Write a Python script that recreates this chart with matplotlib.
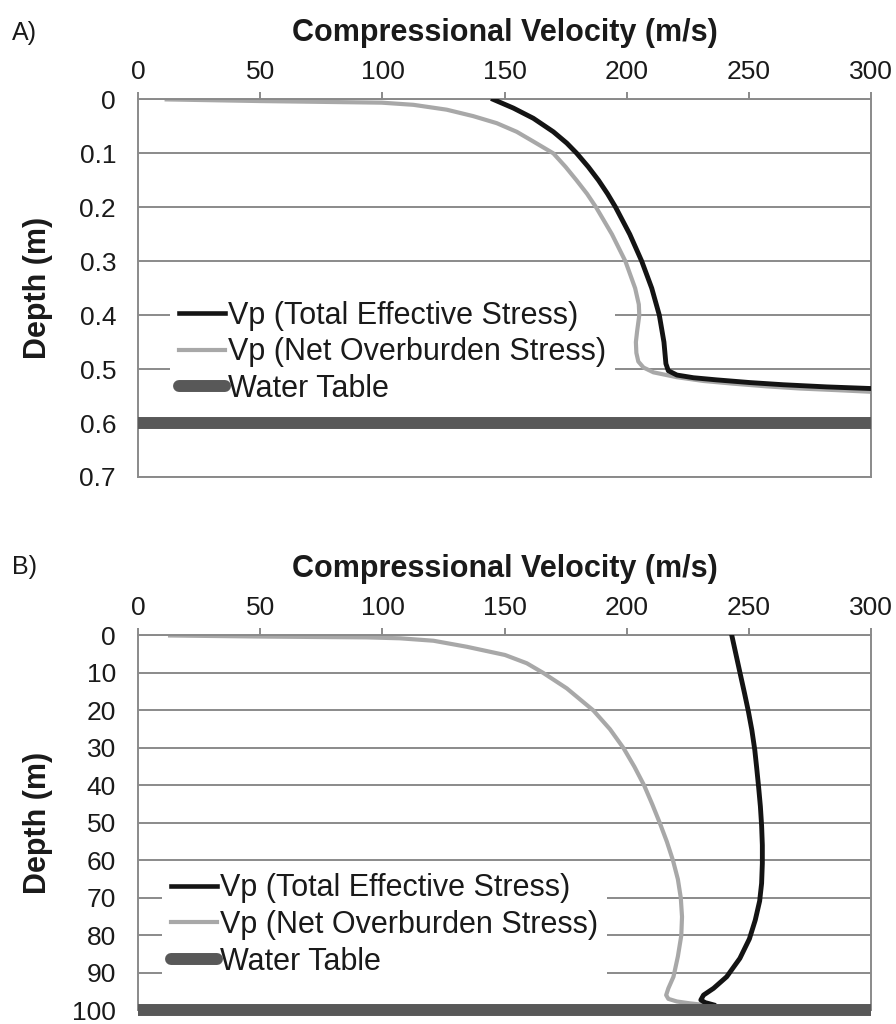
import matplotlib
matplotlib.use("Agg")
import matplotlib.pyplot as plt

# ---- data ----
x_ticks = [0, 50, 100, 150, 200, 250, 300]
y_ticks_a = [0, 0.1, 0.2, 0.3, 0.4, 0.5, 0.6, 0.7]
y_ticks_b = [0, 10, 20, 30, 40, 50, 60, 70, 80, 90, 100]

# A) shallow profile (depth in m, Vp in m/s)
depth_a_total = [0, 0.016, 0.035, 0.060, 0.081, 0.100, 0.125, 0.150, 0.175, 0.200,
                 0.250, 0.300, 0.350, 0.400, 0.450, 0.490, 0.503, 0.511, 0.516, 0.520,
                 0.525, 0.529, 0.533, 0.536]
vp_a_total = [145.4, 153.6, 161.8, 170.0, 175.5, 179.6, 184.3, 188.5, 192.2, 195.5,
              201.3, 206.2, 210.3, 213.4, 215.3, 216.1, 217.1, 220.6, 227.4, 237.0,
              250.6, 264.2, 282.0, 300]

depth_a_net = [0, 0.003, 0.006, 0.010, 0.019, 0.031, 0.044, 0.060, 0.078, 0.100,
               0.125, 0.150, 0.175, 0.200, 0.250, 0.300, 0.350, 0.380, 0.400, 0.430,
               0.450, 0.470, 0.486, 0.497, 0.506, 0.515, 0.522, 0.527, 0.532, 0.536,
               0.539, 0.542]
vp_a_net = [11.6, 49.8, 99.7, 112.7, 126.3, 137.2, 146.8, 155.0, 161.8, 170.0,
            175.0, 179.5, 183.8, 187.5, 194.0, 199.5, 203.5, 205.0, 205.2, 204.3,
            203.8, 204.0, 204.8, 206.9, 211.0, 220.6, 231.5, 243.7, 257.4, 271.1,
            286.1, 300]

# B) deep profile
depth_b_total = [0, 10.1, 15.4, 20.3, 25.2, 30.5, 35.4, 40.6, 45.6, 50.7, 55.9, 60.8,
                 66.1, 70.8, 75.9, 80.9, 86.1, 91.0, 94.1, 95.9, 97.2, 97.9, 98.5]
vp_b_total = [243.1, 246.5, 248.3, 249.9, 251.3, 252.5, 253.3, 254.1, 254.8, 255.3,
              255.6, 255.6, 255.3, 254.5, 252.7, 250.3, 246.4, 241.0, 235.6, 231.5,
              230.4, 232.2, 235.6]

depth_b_net = [0, 0.3, 0.5, 0.75, 1.4, 3.0, 5.2, 7.4, 10.0, 14.1, 20.0, 25.0,
               30.0, 35.0, 40.0, 45.0, 50.0, 55.0, 60.0, 65.0, 70.0, 75.0, 80.0, 85.6,
               91.0, 94.1, 95.9, 96.9, 97.6, 98.1, 98.5]
vp_b_net = [13.0, 52.6, 93.6, 107.2, 120.9, 134.5, 150.2, 159.1, 165.9, 175.5,
            186.4, 193.2, 198.7, 203.2, 207.2, 210.5, 213.6, 216.5, 219.0, 221.0,
            222.2, 222.7, 222.4, 221.0, 219.2, 217.1, 216.2, 217.1, 220.6, 226.0, 231.5]

water_table_a = 0.6
water_table_b = 100

labels = ["Vp (Total Effective Stress)", "Vp (Net Overburden Stress)", "Water Table"]

# ---- style ----
plt.rcParams['font.family'] = ['Liberation Sans', 'DejaVu Sans']
grid_color = '#8a8a8a'
text_color = '#1a1a1a'
total_color = '#141414'
net_color = '#a8a8a8'
water_color = '#585858'

fig = plt.figure(figsize=(8.96, 10.24), dpi=100)
ax_a = fig.add_axes([0.1544, 0.5342, 0.8174, 0.3687])
ax_b = fig.add_axes([0.1544, 0.0132, 0.8174, 0.3662])


def style_axis(ax, y_ticks, y_max):
    ax.set_xlim(0, 300)
    ax.set_ylim(y_max, 0)
    ax.set_xticks(x_ticks)
    ax.set_yticks(y_ticks)
    ax.set_yticklabels([('%g' % t) for t in y_ticks])
    ax.xaxis.tick_top()
    ax.xaxis.set_label_position('top')
    ax.tick_params(axis='x', direction='out', length=5, width=1.4, color=grid_color,
                   labelsize=19, labelcolor=text_color, pad=6)
    ax.tick_params(axis='y', length=0, labelsize=19, labelcolor=text_color, pad=16)
    ax.yaxis.grid(True, color=grid_color, linewidth=1.4)
    ax.set_axisbelow(True)
    for s in ax.spines.values():
        s.set_color(grid_color)
        s.set_linewidth(1.4)
    ax.set_xlabel("Compressional Velocity (m/s)", fontsize=22, fontweight='bold',
                  color=text_color, labelpad=14)
    ax.set_ylabel("Depth (m)", fontsize=22, fontweight='bold', color=text_color)
    ax.yaxis.set_label_coords(-0.1165, 0.5)


def draw_panel(ax, d_total, v_total, d_net, v_net, wt, legend_anchor):
    l1, = ax.plot(v_total, d_total, color=total_color, linewidth=3.5, zorder=3,
                  solid_joinstyle='round')
    l2, = ax.plot(v_net, d_net, color=net_color, linewidth=3.0, zorder=2,
                  solid_joinstyle='round')
    l3 = ax.axhline(wt, color=water_color, linewidth=8.6, solid_capstyle='butt',
                    zorder=4, clip_on=False)
    leg = ax.legend([l1, l2, l3], labels, loc='center left', bbox_to_anchor=legend_anchor,
                    fontsize=22, frameon=True, framealpha=1, facecolor='white',
                    edgecolor='none', borderaxespad=0, borderpad=0.3, handlelength=1.5,
                    handletextpad=0.1, labelspacing=0.22, fancybox=False)
    leg.legend_handles[2].set_solid_capstyle('round')
    leg.legend_handles[0].set_linewidth(3.3)
    leg.legend_handles[1].set_linewidth(3.0)
    for t in leg.get_texts():
        t.set_color(text_color)


style_axis(ax_a, y_ticks_a, 0.7)
style_axis(ax_b, y_ticks_b, 100)
draw_panel(ax_a, depth_a_total, vp_a_total, depth_a_net, vp_a_net, water_table_a, (0.043, 0.33))
draw_panel(ax_b, depth_b_total, vp_b_total, depth_b_net, vp_b_net, water_table_b, (0.032, 0.228))

fig.text(0.013, 1 - 33 / 1024, "A)", fontsize=18, color=text_color, va='center')
fig.text(0.013, 1 - 567 / 1024, "B)", fontsize=18, color=text_color, va='center')

fig.savefig("out.png", dpi=100)
